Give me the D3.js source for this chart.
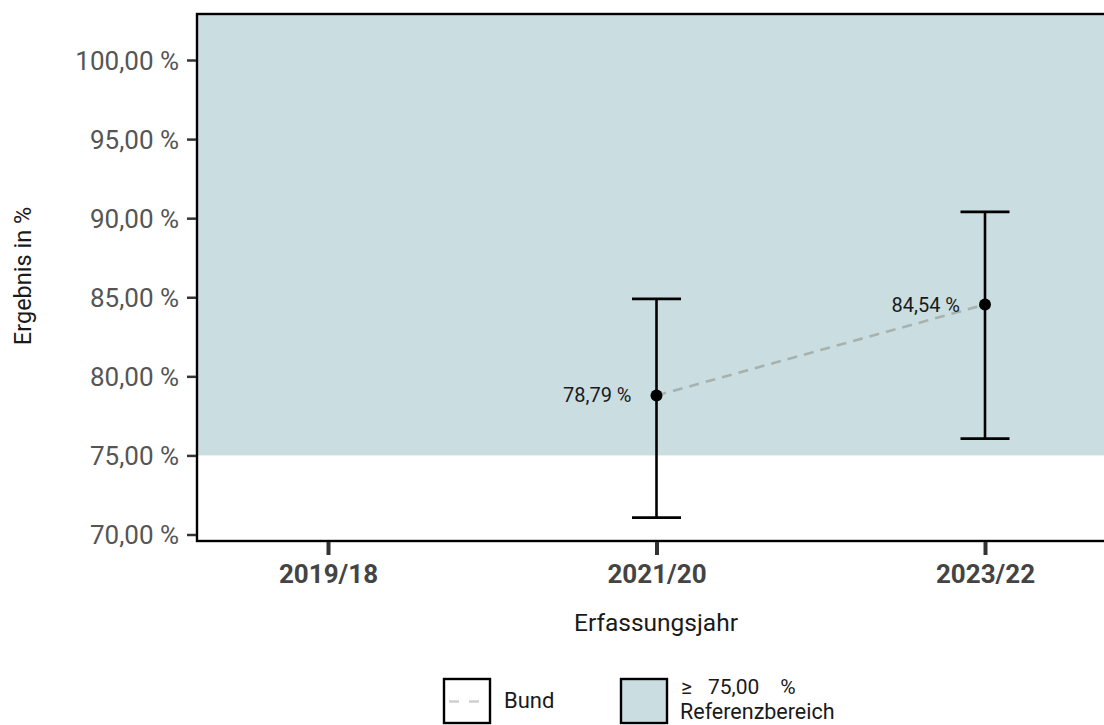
<!DOCTYPE html>
<html><head><meta charset="utf-8">
<script src="https://cdn.jsdelivr.net/npm/d3@7"></script>
<style>
html,body{margin:0;padding:0;background:#fff;}
svg{display:block;font-family:Roboto,"DejaVu Sans",sans-serif;}
</style></head>
<body>
<svg id="chart" width="1104" height="725"></svg>
<script>
const categories = ["2019/18", "2021/20", "2023/22"];
const values = [null, 78.79, 84.54];
const lower = [null, 71.07, 76.06];
const upper = [null, 84.90, 90.40];
const valueLabels = [null, "78,79 %", "84,54 %"];
const yTicks = [70, 75, 80, 85, 90, 95, 100];
const refThreshold = 75;

(function () {
const svg = d3.select("#chart");
const pLeft = 197, pTop = 14, pBottom = 541, pRight = 1130;

const y = d3.scaleLinear().domain([70, 100]).range([534.5, 60]);
const x = d3.scaleLinear().domain([0, 2]).range([328, 985]);

// reference area
svg.append("rect")
  .attr("x", pLeft).attr("y", pTop)
  .attr("width", pRight - pLeft).attr("height", y(refThreshold) - pTop)
  .attr("fill", "#cadee1");

// frame
svg.append("rect")
  .attr("x", pLeft).attr("y", pTop)
  .attr("width", pRight - pLeft).attr("height", pBottom - pTop)
  .attr("fill", "none").attr("stroke", "#000").attr("stroke-width", 2.4);

// y axis
const fmt = v => d3.format(".2f")(v).replace(".", ",") + " %";
const yAxis = svg.append("g").attr("transform", `translate(${pLeft - 1},0)`)
  .call(d3.axisLeft(y).tickValues(yTicks).tickFormat(fmt).tickSize(9).tickPadding(8));
yAxis.select(".domain").remove();
yAxis.selectAll(".tick line").attr("stroke", "#333").attr("stroke-width", 2.5);
yAxis.selectAll(".tick text").attr("fill", "#555").attr("font-size", 26).attr("font-family", "Roboto").attr("dy", "0.35em");

// x axis
const xAxis = svg.append("g").attr("transform", `translate(0,${pBottom + 1})`)
  .call(d3.axisBottom(x).tickValues([0, 1, 2]).tickFormat(i => categories[i]).tickSize(13).tickPadding(10));
xAxis.select(".domain").remove();
xAxis.selectAll(".tick line").attr("stroke", "#333").attr("stroke-width", 4);
xAxis.selectAll(".tick text").attr("fill", "#444").attr("font-size", 26).attr("font-weight", "bold").attr("font-family", "Roboto");

// axis titles
svg.append("text").attr("x", 656).attr("y", 631).attr("text-anchor", "middle")
  .attr("font-size", 24.5).attr("fill", "#1a1a1a").text("Erfassungsjahr");
svg.append("text").attr("transform", "translate(31,276) rotate(-90)").attr("text-anchor", "middle")
  .attr("font-size", 23.5).attr("fill", "#1a1a1a").text("Ergebnis in %");

// data
const pts = values.map((v, i) => ({i, v, lo: lower[i], hi: upper[i], lab: valueLabels[i]})).filter(d => d.v != null);

svg.append("path")
  .datum(pts)
  .attr("d", d3.line().x(d => x(d.i)).y(d => y(d.v)))
  .attr("fill", "none").attr("stroke", "#a7b2af").attr("stroke-width", 2.6)
  .attr("stroke-dasharray", "10,7");

const g = svg.append("g");
pts.forEach(d => {
  const cx = x(d.i);
  g.append("line").attr("x1", cx).attr("x2", cx).attr("y1", y(d.hi)).attr("y2", y(d.lo))
    .attr("stroke", "#000").attr("stroke-width", 2.6);
  [d.hi, d.lo].forEach(v => g.append("line").attr("x1", cx - 24.5).attr("x2", cx + 24.5)
    .attr("y1", y(v)).attr("y2", y(v)).attr("stroke", "#000").attr("stroke-width", 2.6));
  g.append("circle").attr("cx", cx).attr("cy", y(d.v)).attr("r", 6).attr("fill", "#000");
  g.append("text").attr("x", cx - 25).attr("y", y(d.v)).attr("dy", "0.35em")
    .attr("text-anchor", "end").attr("font-size", 20).attr("fill", "#1a1a1a").text(d.lab);
});

// legend
const leg = svg.append("g");
leg.append("rect").attr("x", 444).attr("y", 679).attr("width", 46).attr("height", 44)
  .attr("fill", "#fff").attr("stroke", "#000").attr("stroke-width", 2.4);
leg.append("line").attr("x1", 448).attr("x2", 487).attr("y1", 701.5).attr("y2", 701.5)
  .attr("stroke", "#cfcfcf").attr("stroke-width", 2.6).attr("stroke-dasharray", "10,10").attr("stroke-dashoffset", -1);
leg.append("text").attr("x", 504).attr("y", 708).attr("font-size", 22).attr("fill", "#1a1a1a").text("Bund");
leg.append("rect").attr("x", 621).attr("y", 679).attr("width", 46).attr("height", 44)
  .attr("fill", "#cadee1").attr("stroke", "#000").attr("stroke-width", 2.4);
const t1 = leg.append("text").attr("x", 681).attr("y", 694).attr("font-size", 21).attr("fill", "#1a1a1a");
t1.append("tspan").text("≥");
t1.append("tspan").attr("dx", 16).text("75,00");
t1.append("tspan").attr("dx", 21).text("%");
leg.append("text").attr("x", 680).attr("y", 719).attr("font-size", 21.5).attr("fill", "#1a1a1a").text("Referenzbereich");
})();
</script>
</body></html>
